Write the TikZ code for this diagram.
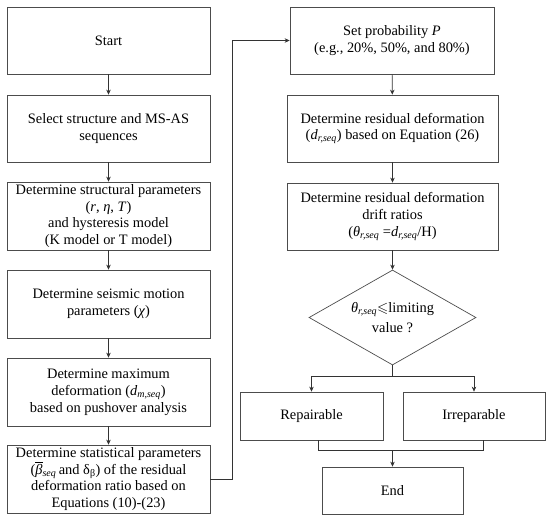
\documentclass[tikz,border=0pt]{standalone}
\usepackage{fontspec}
\usepackage{amssymb}
\setmainfont{Liberation Serif}
\usetikzlibrary{shapes.geometric,arrows.meta}
\tikzset{
  box/.style={draw=black!70, line width=0.7pt, align=center, inner sep=0.5pt, font=\fontsize{14.4}{16.8}\selectfont},
  dia/.style={draw=black!70, line width=0.7pt, diamond, shape aspect=1.76, align=center, inner sep=0pt, font=\fontsize{14.4}{20}\selectfont},
  conn/.style={draw=black!80, line width=0.6pt},
  arr/.style={conn, -{Stealth[length=5pt,width=4.5pt]}}
}
\begin{document}
\begin{tikzpicture}[x=1pt,y=-1pt]
\useasboundingbox (0,0) rectangle (550,520);
\node[box, minimum width=203, minimum height=67] (start) at (108.5,40.5) {Start};
\node[box, minimum width=203, minimum height=67] (sel) at (108.5,128.5) {Select structure and MS-AS\\sequences};
\node[box, minimum width=203, minimum height=68] (str) at (108.5,216) {Determine structural parameters\\(\textit{r}, \textit{η}, \textit{T})\\and hysteresis model\\(K model or T model)};
\node[box, minimum width=203, minimum height=68] (seis) at (108.5,304) {Determine seismic motion\\parameters (\textit{χ})};
\node[box, minimum width=203, minimum height=68] (max) at (108.5,392) {Determine maximum\\deformation (\textit{d}\textsubscript{\textit{m,seq}})\\based on pushover analysis};
\node[box, minimum width=203, minimum height=68] (stat) at (108.5,479) {Determine statistical parameters\\($\overline{\mbox{\textit{β}}}$\textsubscript{\textit{seq}}\,and δ\textsubscript{β}) of the residual\\deformation ratio based on\\Equations (10)-(23)};
\node[box, minimum width=204, minimum height=67] (setp) at (392,40.5) {Set probability \textit{P}\\(e.g., 20\%, 50\%, and 80\%)};
\node[box, minimum width=211, minimum height=67] (res) at (392.5,128.5) {Determine residual deformation\\(\textit{d}\textsubscript{\textit{r,seq}}) based on Equation (26)};
\node[box, minimum width=211, minimum height=67] (drift) at (392.5,216.5) {Determine residual deformation\\drift ratios\\(\textit{θ}\textsubscript{\textit{r,seq}} =\textit{d}\textsubscript{\textit{r,seq}}/H)};
\node[dia, minimum width=167, minimum height=95] (dec) at (392.5,317.5) {\textit{θ}\textsubscript{\textit{r,seq}}$\leqslant$limiting\\value ?};
\node[box, minimum width=143, minimum height=48] (rep) at (311.5,416) {Repairable};
\node[box, minimum width=142, minimum height=48] (irr) at (474,416) {Irreparable};
\node[box, minimum width=141, minimum height=47] (end) at (392.5,490.5) {End};
\coordinate (loopx) at (232,0);
\draw[arr] (start) -- (sel);
\draw[arr] (sel) -- (str);
\draw[arr] (str) -- (seis);
\draw[arr] (seis) -- (max);
\draw[arr] (max) -- (stat);
\draw[arr] (stat.east) -- (stat.east -| loopx) |- (setp.west);
\draw[arr] (setp) -- (res);
\draw[arr] (res) -- (drift);
\draw[arr] (drift) -- (dec.north);
\draw[conn] (dec.south) -- ++(0,11) coordinate (br);
\draw[arr] (br) -| (rep.north);
\draw[arr] (br) -| (irr.north);
\draw[conn] ([xshift=6.5pt]rep.south) -- ++(0,10) coordinate (m1) -| ([xshift=9pt]irr.south);
\draw[arr] (m1 -| end.north) -- (end.north);
\end{tikzpicture}
\end{document}
